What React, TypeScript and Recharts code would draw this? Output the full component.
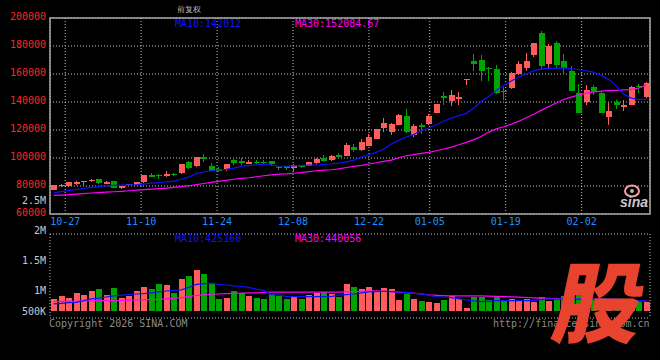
import React from 'react';
import { ComposedChart, Bar, Line, XAxis, YAxis, CartesianGrid, ReferenceArea } from 'recharts';

const DATES = [
  '10-23','10-24','10-27','10-28','10-29','10-30','10-31',
  '11-03','11-04','11-05','11-06','11-07',
  '11-10','11-11','11-12','11-13','11-14',
  '11-17','11-18','11-19','11-20','11-21',
  '11-24','11-25','11-26','11-27','11-28',
  '12-01','12-02','12-03','12-04','12-05',
  '12-08','12-09','12-10','12-11','12-12',
  '12-15','12-16','12-17','12-18','12-19',
  '12-22','12-23','12-24','12-25','12-26',
  '12-29','12-30','12-31',
  '01-05','01-06','01-07','01-08','01-09',
  '01-12','01-13','01-14','01-15','01-16',
  '01-19','01-20','01-21','01-22','01-23',
  '01-26','01-27','01-28','01-29','01-30',
  '02-02','02-03','02-04','02-05','02-06',
  '02-09','02-10','02-11','02-12','02-13',
];

const OPEN = [
  77350, 80700, 79750, 82300, 82600, 84000, 84700, 81700, 83300, 78300,
  81200, 80700, 82600, 87600, 87700, 86900, 88500, 89500, 97100, 94000,
  100400, 94500, 91900, 92200, 98300, 97800, 95450, 97300, 97200, 97600,
  93400, 94000, 92600, 95000, 94500, 96200, 100200, 98300, 102350, 101650,
  107600, 105700, 108800, 113800, 121650, 118800, 123800, 130200, 116400, 123500,
  124500, 132350, 144500, 140900, 141900, 156300, 169000, 169700, 164250, 163800,
  148000, 150000, 160000, 164250, 173800, 189500, 167100, 182100, 169500, 161900,
  146650, 139950, 150900, 146650, 129000, 140000, 137400, 138050, 151600, 143300,
];
const HIGH = [
  80900, 81600, 82700, 83800, 83900, 85200, 85000, 83300, 83800, 80200,
  81600, 83200, 88200, 89000, 88500, 90450, 89200, 96000, 98000, 100800,
  103100, 96600, 93500, 95900, 100200, 99700, 98300, 98800, 98300, 97800,
  94000, 94300, 95900, 95200, 97100, 99700, 102350, 101800, 103300, 110450,
  110000, 113800, 117100, 121000, 128800, 125000, 131400, 135200, 124300, 125000,
  131400, 138700, 147350, 148800, 147350, 156600, 174500, 173800, 165200, 166600,
  150450, 161200, 169500, 174700, 182400, 190450, 181400, 183800, 174250, 165700,
  152850, 151900, 152350, 147600, 139250, 141650, 141400, 151400, 152850, 154250,
];
const LOW = [
  77100, 79000, 79600, 80900, 80900, 82600, 81200, 81500, 78300, 78100,
  80300, 80500, 82400, 86200, 85200, 86200, 87500, 88500, 92000, 93500,
  97400, 90500, 89700, 90400, 95000, 94900, 95400, 95900, 95700, 94500,
  91600, 91600, 90900, 93200, 94300, 96000, 97400, 98100, 100200, 101400,
  104250, 105200, 108300, 113600, 118300, 116150, 123600, 117600, 115200, 117400,
  123300, 132000, 138050, 136900, 138050, 151900, 161900, 154700, 155300, 145900,
  141400, 149500, 159500, 161900, 172350, 163050, 163800, 163550, 159500, 148000,
  132000, 137600, 145200, 132000, 123800, 135200, 133300, 137800, 146650, 142850,
];
const CLOSE = [
  80690, 80800, 82600, 82600, 83800, 84300, 81900, 83000, 78550, 80000,
  81400, 83000, 88100, 86900, 87300, 88800, 88200, 95900, 92800, 100400,
  99300, 90700, 91200, 95500, 96400, 96200, 96900, 96900, 96900, 95900,
  93000, 92600, 95000, 93500, 96900, 99500, 97600, 101600, 100450, 109500,
  105700, 111400, 115000, 120900, 125200, 124000, 130900, 118800, 122600, 122100,
  130200, 138550, 142600, 145200, 143800, 156500, 167100, 161900, 163300, 146200,
  147200, 160900, 167350, 169500, 182350, 165700, 180000, 166150, 164250, 148050,
  132350, 148800, 147000, 132350, 133800, 138050, 137600, 150900, 151200, 153300,
];
const VOLUME = [
  858000, 913000, 870000, 958000, 925000, 992000, 1025000, 925000, 1042000, 875000,
  913000, 992000, 1058000, 1025000, 1108000, 1092000, 958000, 1192000, 1247000, 1342000,
  1275000, 1120000, 858000, 880000, 992000, 953000, 908000, 880000, 858000, 942000,
  908000, 858000, 913000, 858000, 920000, 958000, 970000, 942000, 897000, 1108000,
  1058000, 1025000, 1058000, 975000, 1042000, 1025000, 842000, 942000, 858000, 825000,
  808000, 792000, 842000, 913000, 858000, 708000, 897000, 897000, 842000, 908000,
  825000, 858000, 825000, 858000, 808000, 897000, 825000, 880000, 900000, 880000,
  950000, 900000, 850000, 880000, 850000, 800000, 780000, 850000, 800000, 800000,
];
const MA10 = [
  75300, 76000, 76700, 77500, 78300, 79000, 79600, 80100, 80400, 80600,
  80800, 80900, 81400, 82000, 82500, 82900, 83500, 84800, 86300, 88800,
  90000, 90900, 91600, 91900, 92800, 94000, 94700, 95000, 95400, 95000,
  94300, 94100, 94400, 94700, 94900, 95000, 95200, 95900, 96400, 97250,
  98500, 100400, 102300, 104000, 106400, 110000, 112600, 115000, 116900, 119500,
  121400, 123800, 126200, 128500, 130200, 131900, 135700, 140400, 144000, 148300,
  152000, 155000, 157800, 160000, 162200, 163600, 164000, 164200, 164200, 163600,
  163200, 162300, 161200, 159000, 156000, 151500, 145600, 142800, 141700, 142012,
];
const MA30 = [
  73300, 73500, 73800, 74200, 74600, 75000, 75300, 75600, 75900, 76200,
  76600, 77000, 77400, 77800, 78100, 78500, 79000, 79600, 80200, 81000,
  81800, 82600, 83300, 84000, 84800, 85500, 85900, 86600, 87300, 88000,
  88500, 88700, 89100, 89600, 90200, 90900, 91300, 91600, 92200, 93200,
  94000, 94700, 95700, 96600, 97600, 98500, 100200, 101600, 102400, 103300,
  104000, 105200, 106400, 107800, 109500, 111200, 113100, 115400, 118500, 120800,
  122300, 124100, 126300, 128800, 131200, 134000, 136800, 139300, 141800, 143500,
  145000, 146300, 147200, 147800, 148100, 148300, 148600, 149000, 150000, 152084.67,
];
const VOL_MA10 = [
  775000, 785000, 795000, 800000, 830000, 860000, 870000, 890000, 910000, 920000,
  930000, 940000, 945000, 960000, 975000, 990000, 1000000, 1010000, 1050000, 1100000,
  1110000, 1120000, 1100000, 1090000, 1075000, 1065000, 1050000, 1020000, 1000000, 930000,
  920000, 900000, 897000, 897000, 897000, 897000, 897000, 897000, 920000, 930000,
  940000, 960000, 975000, 980000, 986000, 980000, 975000, 966000, 950000, 940000,
  920000, 897000, 890000, 880000, 860000, 842000, 825000, 814000, 820000, 830000,
  830000, 830000, 830000, 830000, 830000, 845000, 858000, 855000, 855000, 855000,
  855000, 855000, 855000, 855000, 855000, 855000, 850000, 835000, 830000, 830000,
];
const VOL_MA30 = [
  814000, 816000, 818000, 820000, 825000, 826000, 828000, 830000, 832000, 835000,
  838000, 840000, 845000, 847000, 850000, 860000, 870000, 880000, 900000, 915000,
  925000, 936000, 940000, 945000, 950000, 955000, 958000, 960000, 965000, 970000,
  970000, 970000, 970000, 970000, 970000, 970000, 970000, 970000, 972000, 975000,
  980000, 985000, 990000, 992000, 985000, 978000, 970000, 960000, 953000, 940000,
  925000, 918000, 912000, 908000, 908000, 908000, 908000, 908000, 905000, 900000,
  897000, 893000, 888000, 882000, 876000, 872000, 868000, 864000, 860000, 858000,
  858000, 858000, 855000, 852000, 848000, 845000, 840000, 835000, 830000, 825000,
];

const TICK_DATES = ['10-27', '11-10', '11-24', '12-08', '12-22', '01-05', '01-19', '02-02'];
const PRICE_TICKS = [60000, 80000, 100000, 120000, 140000, 160000, 180000, 200000];
const PRICE_DOMAIN = [60000, 200000];
const VOL_TICKS = [500000, 1000000, 1500000, 2000000, 2500000];
const VOL_DOMAIN = [540000, 1940000];
const VOL_BASE = 656000;
const PRICE_MA_LABELS = ['MA10:142012', 'MA30:152084.67'];
const VOL_MA_LABELS = ['MA10:425160', 'MA30:440056'];

const RED = '#ff5c5c';
const GREEN = '#00a400';
const BLUE = '#1010ff';
const MAGENTA = '#ff00ff';
const GRID = '#c4c4c4';
const FRAME = '#a8a8a8';
const MONO = "'DejaVu Sans Mono', 'Liberation Mono', monospace";

const TICK_IDX = TICK_DATES.map((d) => DATES.indexOf(d));

const data = DATES.map((date, i) => ({
  idx: i,
  date,
  open: OPEN[i],
  high: HIGH[i],
  low: LOW[i],
  close: CLOSE[i],
  vol: VOLUME[i],
  ma10: MA10[i],
  ma30: MA30[i],
  vma10: VOL_MA10[i],
  vma30: VOL_MA30[i],
  up: CLOSE[i] >= OPEN[i],
}));

const Candle = (props: any) => {
  const { x, y, width, height, payload } = props;
  if (!payload) return null;
  let top = y;
  let h = height;
  if (h < 0) {
    top = y + h;
    h = -h;
  }
  const { open, close, high, low, up } = payload;
  const color = up ? RED : GREEN;
  const ratio = high > low ? h / (high - low) : 0;
  const yOf = (v: number) => top + (high - v) * ratio;
  const bTop = yOf(Math.max(open, close));
  const bBot = yOf(Math.min(open, close));
  const cx = Math.round(x + width / 2) - 0.5;
  return (
    <g shapeRendering="crispEdges">
      <line x1={cx} x2={cx} y1={top} y2={top + h} stroke={color} strokeWidth={1} />
      <rect x={Math.round(x)} y={bTop} width={Math.round(width)} height={Math.max(1.2, bBot - bTop)} fill={color} />
    </g>
  );
};

const VolBar = (props: any) => {
  const { x, y, width, height, payload } = props;
  if (!payload) return null;
  let top = y;
  let h = height;
  if (h < 0) {
    top = y + h;
    h = -h;
  }
  return (
    <rect
      shapeRendering="crispEdges"
      x={Math.round(x)}
      y={top}
      width={Math.round(width)}
      height={h}
      fill={payload.up ? RED : GREEN}
    />
  );
};

const PriceTick = (props: any) => {
  const { x, y, payload } = props;
  return (
    <text x={x} y={y + 2} textAnchor="end" fill="#ff2424" fontSize={10} fontFamily={MONO}>
      {payload.value}
    </text>
  );
};

const fmtVol = (v: number) => (v >= 1000000 ? `${v / 1000000}M` : `${v / 1000}K`);

const VolTick = (props: any) => {
  const { x, y, payload } = props;
  const yy = Math.min(y, 311);
  return (
    <text x={x} y={yy + 3.5} textAnchor="end" fill="#c8c8c8" fontSize={10} fontFamily={MONO}>
      {fmtVol(payload.value)}
    </text>
  );
};

const DateTick = (props: any) => {
  const { x, y, payload } = props;
  return (
    <text x={x} y={y + 11} textAnchor="middle" fill="#1e90ff" fontSize={10} fontFamily={MONO}>
      {DATES[payload.value]}
    </text>
  );
};

export default function App() {
  return (
    <div
      style={{
        position: 'absolute',
        left: 0,
        top: 0,
        width: 660,
        height: 360,
        background: '#000',
        overflow: 'hidden',
      }}
    >
      <div style={{ position: 'absolute', left: 0, top: 0 }}>
        <ComposedChart width={660} height={232} data={data} margin={{ top: 18, right: 10, bottom: 0, left: 0 }}>
          <XAxis
            xAxisId="lbl"
            dataKey="idx"
            type="number"
            domain={[0, DATES.length - 1]}
            ticks={TICK_IDX}
            interval={0}
            height={18}
            tickSize={0}
            tickMargin={0}
            axisLine={false}
            tickLine={false}
            tick={<DateTick />}
            allowDataOverflow
          />
          <XAxis xAxisId="bar" dataKey="date" type="category" hide height={0} />
          <YAxis
            yAxisId="p"
            domain={PRICE_DOMAIN}
            ticks={PRICE_TICKS}
            interval={0}
            width={50}
            tickSize={0}
            tickMargin={4}
            axisLine={false}
            tickLine={false}
            tick={<PriceTick />}
            allowDataOverflow
          />
          <CartesianGrid xAxisId="lbl" yAxisId="p" stroke={GRID} strokeDasharray="1 2" />
          <ReferenceArea
            xAxisId="lbl"
            yAxisId="p"
            x1={0}
            x2={DATES.length - 1}
            y1={PRICE_DOMAIN[0]}
            y2={PRICE_DOMAIN[1]}
            fill="none"
            stroke={FRAME}
            strokeWidth={1.5}
          />
          <Bar
            xAxisId="bar"
            yAxisId="p"
            dataKey={(d: any) => [d.low, d.high]}
            barSize={6}
            shape={<Candle />}
            isAnimationActive={false}
          />
          <Line xAxisId="bar" yAxisId="p" dataKey="ma30" stroke={MAGENTA} strokeWidth={1.2} dot={false} isAnimationActive={false} />
          <Line xAxisId="bar" yAxisId="p" dataKey="ma10" stroke={BLUE} strokeWidth={1.2} dot={false} isAnimationActive={false} />
        </ComposedChart>
      </div>
      <div style={{ position: 'absolute', left: 0, top: 0 }}>
        <ComposedChart width={660} height={360} data={data} margin={{ top: 234, right: 10, bottom: 42, left: 0 }}>
          <XAxis
            xAxisId="lbl"
            dataKey="idx"
            type="number"
            domain={[0, DATES.length - 1]}
            ticks={TICK_IDX}
            interval={0}
            height={0}
            tick={false}
            axisLine={false}
            tickLine={false}
            allowDataOverflow
          />
          <XAxis xAxisId="bar" dataKey="date" type="category" hide height={0} />
          <YAxis
            yAxisId="v"
            domain={VOL_DOMAIN}
            ticks={VOL_TICKS}
            interval={0}
            width={50}
            tickSize={0}
            tickMargin={4}
            axisLine={false}
            tickLine={false}
            tick={<VolTick />}
            allowDataOverflow
          />
          <YAxis yAxisId="g" hide width={0} domain={[0, 4]} ticks={[0, 1, 2, 3, 4]} />
          <CartesianGrid xAxisId="lbl" yAxisId="g" stroke={GRID} strokeDasharray="1 2" />
          <ReferenceArea
            xAxisId="lbl"
            yAxisId="g"
            x1={0}
            x2={DATES.length - 1}
            y1={0}
            y2={4}
            fill="none"
            stroke={FRAME}
            strokeWidth={1.5}
          />
          <Bar
            xAxisId="bar"
            yAxisId="v"
            dataKey={(d: any) => [VOL_BASE, d.vol]}
            barSize={6}
            shape={<VolBar />}
            isAnimationActive={false}
          />
          <Line xAxisId="bar" yAxisId="v" dataKey="vma30" stroke={MAGENTA} strokeWidth={1.2} dot={false} isAnimationActive={false} />
          <Line xAxisId="bar" yAxisId="v" dataKey="vma10" stroke={BLUE} strokeWidth={1.2} dot={false} isAnimationActive={false} />
        </ComposedChart>
      </div>
      <svg
        width={660}
        height={360}
        style={{ position: 'absolute', left: 0, top: 0, pointerEvents: 'none' }}
      >
        <g fontFamily={MONO} fontSize={10}>
          <text x={175} y={27} fill={BLUE}>{PRICE_MA_LABELS[0]}</text>
          <text x={295} y={27} fill={MAGENTA}>{PRICE_MA_LABELS[1]}</text>
          <text x={175} y={242} fill={BLUE}>{VOL_MA_LABELS[0]}</text>
          <text x={295} y={242} fill={MAGENTA}>{VOL_MA_LABELS[1]}</text>
          <text x={49} y={327} fill="#8a8a8a">Copyright 2026 SINA.COM</text>
          <text x={493} y={327} fill="#8a8a8a">http://finance.sina.com.cn</text>
        </g>
        <text x={177} y={12} fill="#bdbdbd" fontSize={8} fontFamily={MONO}>前复权</text>
        <g>
          <ellipse cx={632} cy={191} rx={7} ry={5.5} fill="none" stroke="#f4a0a0" strokeWidth={2} />
          <circle cx={632} cy={191} r={2} fill="#b0b0b0" />
          <text
            x={634}
            y={207}
            textAnchor="middle"
            fill="#c8c8c8"
            fontSize={14}
            fontWeight="bold"
            fontStyle="italic"
            fontFamily="'Liberation Sans', Arial, sans-serif"
          >
            sina
          </text>
        </g>
        <g transform="translate(593,336) skewX(-12)">
          <text
            x={0}
            y={0}
            textAnchor="middle"
            fill="#e8432e"
            fontSize={88}
            fontWeight={900}
            fontFamily="'Noto Sans CJK SC', sans-serif"
          >
            股
          </text>
        </g>
      </svg>
    </div>
  );
}
